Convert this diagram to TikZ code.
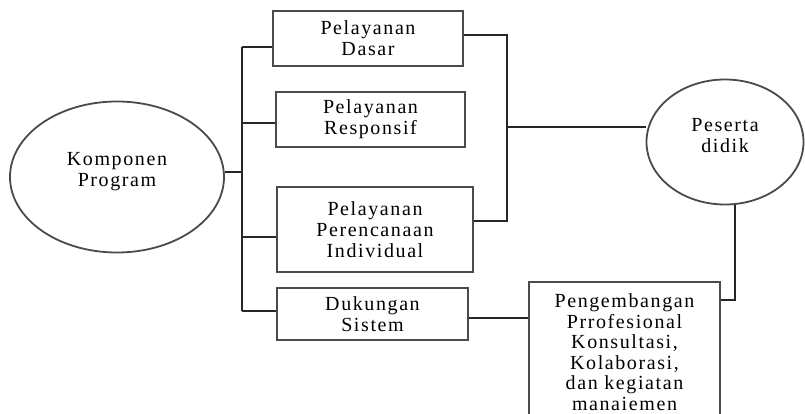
\documentclass[tikz,border=0pt]{standalone}
\usepackage{fontspec}
\setmainfont{Liberation Serif}[LetterSpace=8]
\usetikzlibrary{shapes.geometric}
\definecolor{edgegray}{HTML}{4A4A4A}
\begin{document}
\begin{tikzpicture}[x=1pt,y=-1pt,
  every node/.style={font=\fontsize{20}{21}\selectfont},
  boxnode/.style={draw=edgegray,line width=1.8pt,rectangle,inner sep=0pt,align=center},
  ellnode/.style={draw=edgegray,line width=1.8pt,ellipse,inner sep=0pt},
  txt/.style={align=center,inner sep=0pt},
  link/.style={draw=black!85,line width=1.3pt}]
\useasboundingbox (0,0) rectangle (805,414);
\clip (0,0) rectangle (805,414);
% ellipses
\node[ellnode,minimum width=214pt,minimum height=151pt] (komp) at (117,177) {};
\node[txt] (kompt) at (117,172) {Komponen\\Program};
\node[ellnode,minimum width=157pt,minimum height=125pt] (pes) at (725,142) {};
\node[txt] (pest) at (725,136) {Peserta\\didik};
% boxes
\node[boxnode,minimum width=190pt,minimum height=55pt] (dasar) at (368,38.5) {Pelayanan\\Dasar};
\node[boxnode,minimum width=189pt,minimum height=55pt] (resp) at (370.5,119.5) {Pelayanan\\Responsif};
\node[boxnode,minimum width=196pt,minimum height=85pt] (peren) at (375,229.5) {Pelayanan\\Perencanaan\\Individual};
\node[boxnode,minimum width=191pt,minimum height=52pt] (duk) at (372.5,314) {Dukungan\\Sistem};
\node[boxnode,minimum width=191pt,minimum height=140pt,font=\fontsize{20}{20.5}\selectfont] (peng) at (624.5,352) {Pengembangan\\Prrofesional\\Konsultasi,\\Kolaborasi,\\dan kegiatan\\manaiemen};
% left bus
\coordinate (busTop) at (242,47);
\coordinate (busBot) at (242,311);
\coordinate (busK) at (242,172);
\coordinate (busR) at (242,123);
\coordinate (busP) at (242,237);
\draw[link] (busTop) -- (busBot);
\draw[link] (komp.east |- busK) -- (busK);
\draw[link] (busTop) -- (dasar.west |- busTop);
\draw[link] (busR) -- (resp.west |- busR);
\draw[link] (busP) -- (peren.west |- busP);
\draw[link] (busBot) -- (duk.west |- busBot);
% right bus
\coordinate (rbTop) at (507,35);
\coordinate (rbBot) at (507,221);
\coordinate (rbMid) at (507,127);
\draw[link] (dasar.east |- rbTop) -- (rbTop) -- (rbBot) -- (peren.east |- rbBot);
\draw[link] (rbMid) -- (pes.west |- rbMid);
% lower links
\coordinate (dk) at (500,318);
\draw[link] (duk.east |- dk) -- (peng.west |- dk);
\coordinate (pb) at (735,300);
\draw[link] (pes.south -| pb) -- (pb) -- (peng.east |- pb);
\end{tikzpicture}
\end{document}
